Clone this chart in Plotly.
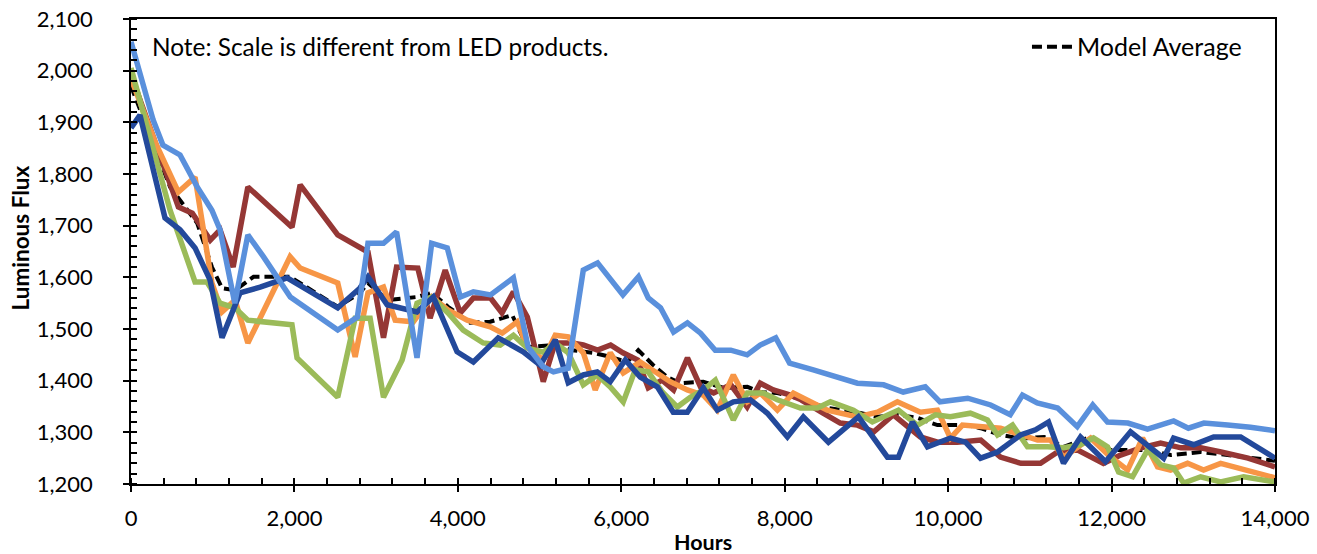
import plotly.graph_objects as go

# ---------------- data ----------------
lb_h = [0, 270, 390, 600, 810, 990, 1090, 1270, 1430, 1620, 1950, 2530, 2770, 2900, 3090, 3250, 3500, 3680, 3870, 4030,
        4190, 4400, 4680, 4860, 5045, 5170, 5350, 5535, 5710, 6020, 6210, 6330, 6480, 6640, 6810, 6970, 7150, 7340, 7540, 7700,
        7890, 8060, 8350, 8650, 8890, 9210, 9450, 9720, 9900, 10240, 10520, 10760, 10910, 11090, 11340, 11580, 11770, 11950, 12200, 12440,
        12760, 12940, 13130, 13420, 13700, 14000]
lb_f = [2056, 1905, 1856, 1837, 1775, 1730, 1692, 1550, 1682, 1640, 1562, 1498, 1523, 1666, 1666, 1688, 1444, 1666, 1657, 1562,
        1572, 1566, 1599, 1465, 1427, 1417, 1424, 1614, 1628, 1566, 1601, 1560, 1541, 1494, 1512, 1492, 1459, 1459, 1450, 1469,
        1483, 1434, 1421, 1405, 1395, 1392, 1378, 1388, 1359, 1366, 1353, 1334, 1372, 1357, 1347, 1311, 1353, 1320, 1318, 1306,
        1322, 1308, 1318, 1314, 1310, 1303]

dr_h = [0, 355, 580, 750, 970, 1090, 1250, 1430, 1970, 2070, 2530, 2900, 3090, 3250, 3510, 3660, 3845, 4030, 4190, 4400,
        4540, 4680, 4850, 5045, 5190, 5400, 5535, 5710, 5870, 6020, 6200, 6330, 6500, 6640, 6810, 6970, 7130, 7340, 7540, 7700,
        7860, 8070, 8200, 8470, 8680, 8890, 9090, 9330, 9660, 9870, 10110, 10400, 10640, 10890, 11130, 11340, 11580, 11900, 12110, 12360,
        12600, 12850, 13090, 13340, 13670, 14000]
dr_f = [1992, 1833, 1736, 1724, 1672, 1692, 1620, 1775, 1697, 1779, 1682, 1649, 1483, 1620, 1618, 1521, 1614, 1531, 1560, 1560,
        1531, 1572, 1523, 1398, 1473, 1473, 1469, 1459, 1469, 1454, 1440, 1386, 1401, 1382, 1444, 1388, 1376, 1392, 1349, 1395,
        1382, 1372, 1363, 1337, 1318, 1314, 1301, 1334, 1291, 1281, 1281, 1285, 1252, 1240, 1240, 1262, 1266, 1240, 1256, 1270,
        1279, 1270, 1270, 1262, 1250, 1233]

db_h = [0, 110, 416, 600, 784, 967, 1114, 1335, 1580, 1910, 2530, 2800, 2900, 3135, 3500, 3700, 3990, 4190, 4494, 4800,
        5008, 5192, 5351, 5535, 5706, 5865, 6049, 6232, 6441, 6636, 6808, 7004, 7175, 7371, 7580, 7788, 8033, 8228, 8535, 8902,
        9257, 9392, 9563, 9747, 10028, 10212, 10396, 10604, 10886, 11069, 11228, 11412, 11620, 11926, 12232, 12441, 12637, 12759, 13004, 13249,
        13580, 14000]
db_f = [1889, 1914, 1715, 1692, 1657, 1595, 1483, 1570, 1581, 1599, 1541, 1579, 1601, 1547, 1533, 1562, 1456, 1436, 1483, 1456,
        1430, 1479, 1396, 1411, 1417, 1398, 1440, 1407, 1388, 1339, 1339, 1386, 1343, 1359, 1363, 1337, 1291, 1330, 1281, 1330,
        1252, 1252, 1320, 1272, 1289, 1281, 1250, 1262, 1295, 1305, 1320, 1240, 1291, 1243, 1301, 1276, 1250, 1289, 1276, 1291,
        1291, 1250]

or_h = [0, 300, 580, 784, 990, 1114, 1273, 1430, 1947, 2070, 2530, 2743, 2900, 3090, 3233, 3455, 3680, 3880, 4114, 4396,
        4543, 4726, 4850, 5045, 5192, 5351, 5535, 5681, 5865, 6024, 6232, 6416, 6600, 6808, 7004, 7175, 7371, 7543, 7702, 7910,
        8106, 8522, 8890, 9135, 9379, 9661, 9869, 10028, 10175, 10641, 11094, 11253, 11412, 11743, 11963, 12196, 12379, 12563, 12722, 12930,
        13126, 13335, 13665, 14000]
or_f = [1985, 1860, 1765, 1794, 1589, 1533, 1556, 1473, 1640, 1618, 1589, 1446, 1570, 1581, 1517, 1514, 1562, 1537, 1517, 1504,
        1492, 1514, 1465, 1440, 1488, 1485, 1454, 1382, 1454, 1415, 1436, 1417, 1398, 1382, 1372, 1343, 1411, 1359, 1376, 1343,
        1376, 1343, 1330, 1339, 1359, 1339, 1343, 1289, 1314, 1308, 1285, 1285, 1252, 1289, 1256, 1227, 1289, 1233, 1227, 1240,
        1227, 1240, 1227, 1212]

gr_h = [0, 478, 784, 930, 1090, 1273, 1430, 1970, 2032, 2530, 2743, 2926, 3090, 3318, 3500, 3680, 3880, 4065, 4310, 4518,
        4680, 4850, 5045, 5192, 5351, 5535, 5706, 5865, 6024, 6171, 6330, 6502, 6685, 6845, 7004, 7151, 7371, 7543, 7739, 7910,
        8192, 8400, 8559, 8841, 9073, 9392, 9624, 9845, 10028, 10273, 10481, 10604, 10788, 10971, 11216, 11412, 11620, 11779, 11951, 12086,
        12257, 12441, 12600, 12759, 12882, 13090, 13335, 13616, 14000]
gr_f = [2005, 1730, 1591, 1591, 1550, 1541, 1517, 1508, 1444, 1368, 1521, 1521, 1368, 1440, 1550, 1562, 1531, 1498, 1473, 1469,
        1488, 1463, 1455, 1473, 1454, 1392, 1411, 1388, 1359, 1421, 1417, 1378, 1349, 1368, 1382, 1401, 1324, 1376, 1376, 1363,
        1347, 1347, 1359, 1343, 1320, 1343, 1314, 1334, 1330, 1337, 1324, 1295, 1314, 1272, 1272, 1270, 1276, 1289, 1272, 1223,
        1214, 1266, 1237, 1231, 1202, 1214, 1204, 1214, 1204]

avg_h = [0, 478, 810, 990, 1114, 1273, 1500, 1947, 2150, 2530, 2804, 2900, 3135, 3500, 3680, 3880, 4150, 4396, 4665, 4850,
         5192, 5400, 5657, 5865, 6073, 6208, 6392, 6563, 6722, 7004, 7249, 7543, 7702, 7910, 8155, 8522, 8890, 9135, 9392, 9624,
         9869, 10236, 10396, 10641, 10886, 11175, 11412, 11743, 11987, 12441, 12722, 13090, 13420, 14000]
avg_f = [1970, 1775, 1705, 1620, 1579, 1575, 1601, 1601, 1581, 1543, 1570, 1589, 1556, 1562, 1570, 1543, 1512, 1514, 1527, 1465,
         1469, 1459, 1454, 1446, 1436, 1459, 1430, 1407, 1395, 1398, 1386, 1388, 1378, 1376, 1366, 1347, 1339, 1330, 1334, 1328,
         1314, 1314, 1308, 1295, 1288, 1291, 1272, 1291, 1266, 1266, 1256, 1262, 1256, 1245]

x_ticks = [0, 2000, 4000, 6000, 8000, 10000, 12000, 14000]
y_ticks = [1200, 1300, 1400, 1500, 1600, 1700, 1800, 1900, 2000, 2100]

FONT = "Lato"

fig = go.Figure()

fig.add_trace(go.Scatter(x=avg_h, y=avg_f, mode="lines", name="Model Average",
                         line=dict(color="black", width=4, dash="10px,5px")))
series = [
    (dr_h, dr_f, "#953735"),
    (or_h, or_f, "#F79646"),
    (gr_h, gr_f, "#9BBB59"),
    (db_h, db_f, "#23499B"),
    (lb_h, lb_f, "#5A90DC"),
]
for hx, fy, c in series:
    fig.add_trace(go.Scatter(x=hx, y=fy, mode="lines", showlegend=False,
                             line=dict(color=c, width=5.5)))
# dummy trace so the overlay tick axes are drawn
fig.add_trace(go.Scatter(x=[None], y=[None], xaxis="x2", yaxis="y2", showlegend=False, hoverinfo="skip"))

axis_common = dict(showgrid=False, zeroline=False, linecolor="black", linewidth=1.5,
                   tickcolor="black", tickwidth=1.5, ticklen=6, ticks="outside", automargin=False,
                   ticklabeloverflow="allow",
                   tickfont=dict(family=FONT, size=22, color="black"))

fig.update_layout(
    width=1317, height=554,
    margin=dict(l=131, r=42, t=19, b=70),
    paper_bgcolor="white", plot_bgcolor="white",
    font=dict(family=FONT, size=22, color="black"),
    xaxis=dict(range=[0, 14000], tickvals=x_ticks, tickformat=",d", showline=True, mirror=True,
               minor=dict(dtick=400, ticks="inside", ticklen=6, tickcolor="black", tickwidth=1.5),
               ticklabelstandoff=8, **axis_common),
    yaxis=dict(range=[1200, 2100], tickvals=y_ticks, tickformat=",d", showline=True, mirror=True,
               minor=dict(dtick=20, ticks="inside", ticklen=6, tickcolor="black", tickwidth=1.5),
               ticklabelstandoff=26, **axis_common),
    xaxis2=dict(overlaying="x", matches="x", anchor="y2", range=[0, 14000], tickvals=x_ticks,
                ticks="inside", ticklen=6, tickwidth=1.5, tickcolor="black", automargin=False,
                showticklabels=False, showline=False, showgrid=False, zeroline=False),
    yaxis2=dict(overlaying="y", matches="y", anchor="x2", range=[1200, 2100], tickvals=y_ticks,
                ticks="inside", ticklen=6, tickwidth=1.5, tickcolor="black", automargin=False,
                showticklabels=False, showline=False, showgrid=False, zeroline=False),
    legend=dict(x=0.9755, y=0.94, xanchor="right", yanchor="middle", bgcolor="rgba(0,0,0,0)",
                font=dict(family=FONT, size=25, color="black"), itemwidth=40),
    showlegend=True,
    annotations=[
        dict(text="Note: Scale is different from LED products.", xref="paper", yref="paper",
             x=0.0166, y=0.94, xanchor="left", yanchor="middle", showarrow=False,
             font=dict(family=FONT, size=24.4, color="black")),
        dict(text="<b>Hours</b>", xref="paper", yref="paper", x=0.5, y=0, yshift=-58,
             xanchor="center", yanchor="middle", showarrow=False,
             font=dict(family=FONT, size=21.5, color="black")),
        dict(text="<b>Luminous Flux</b>", xref="paper", yref="paper", x=0, xshift=-111, y=0.5, yshift=13,
             textangle=-90, xanchor="center", yanchor="middle", showarrow=False,
             font=dict(family=FONT, size=22.5, color="black")),
    ],
)

fig.write_html("out.html", config={"displayModeBar": False},
               post_script="document.body.style.margin='0px';")
